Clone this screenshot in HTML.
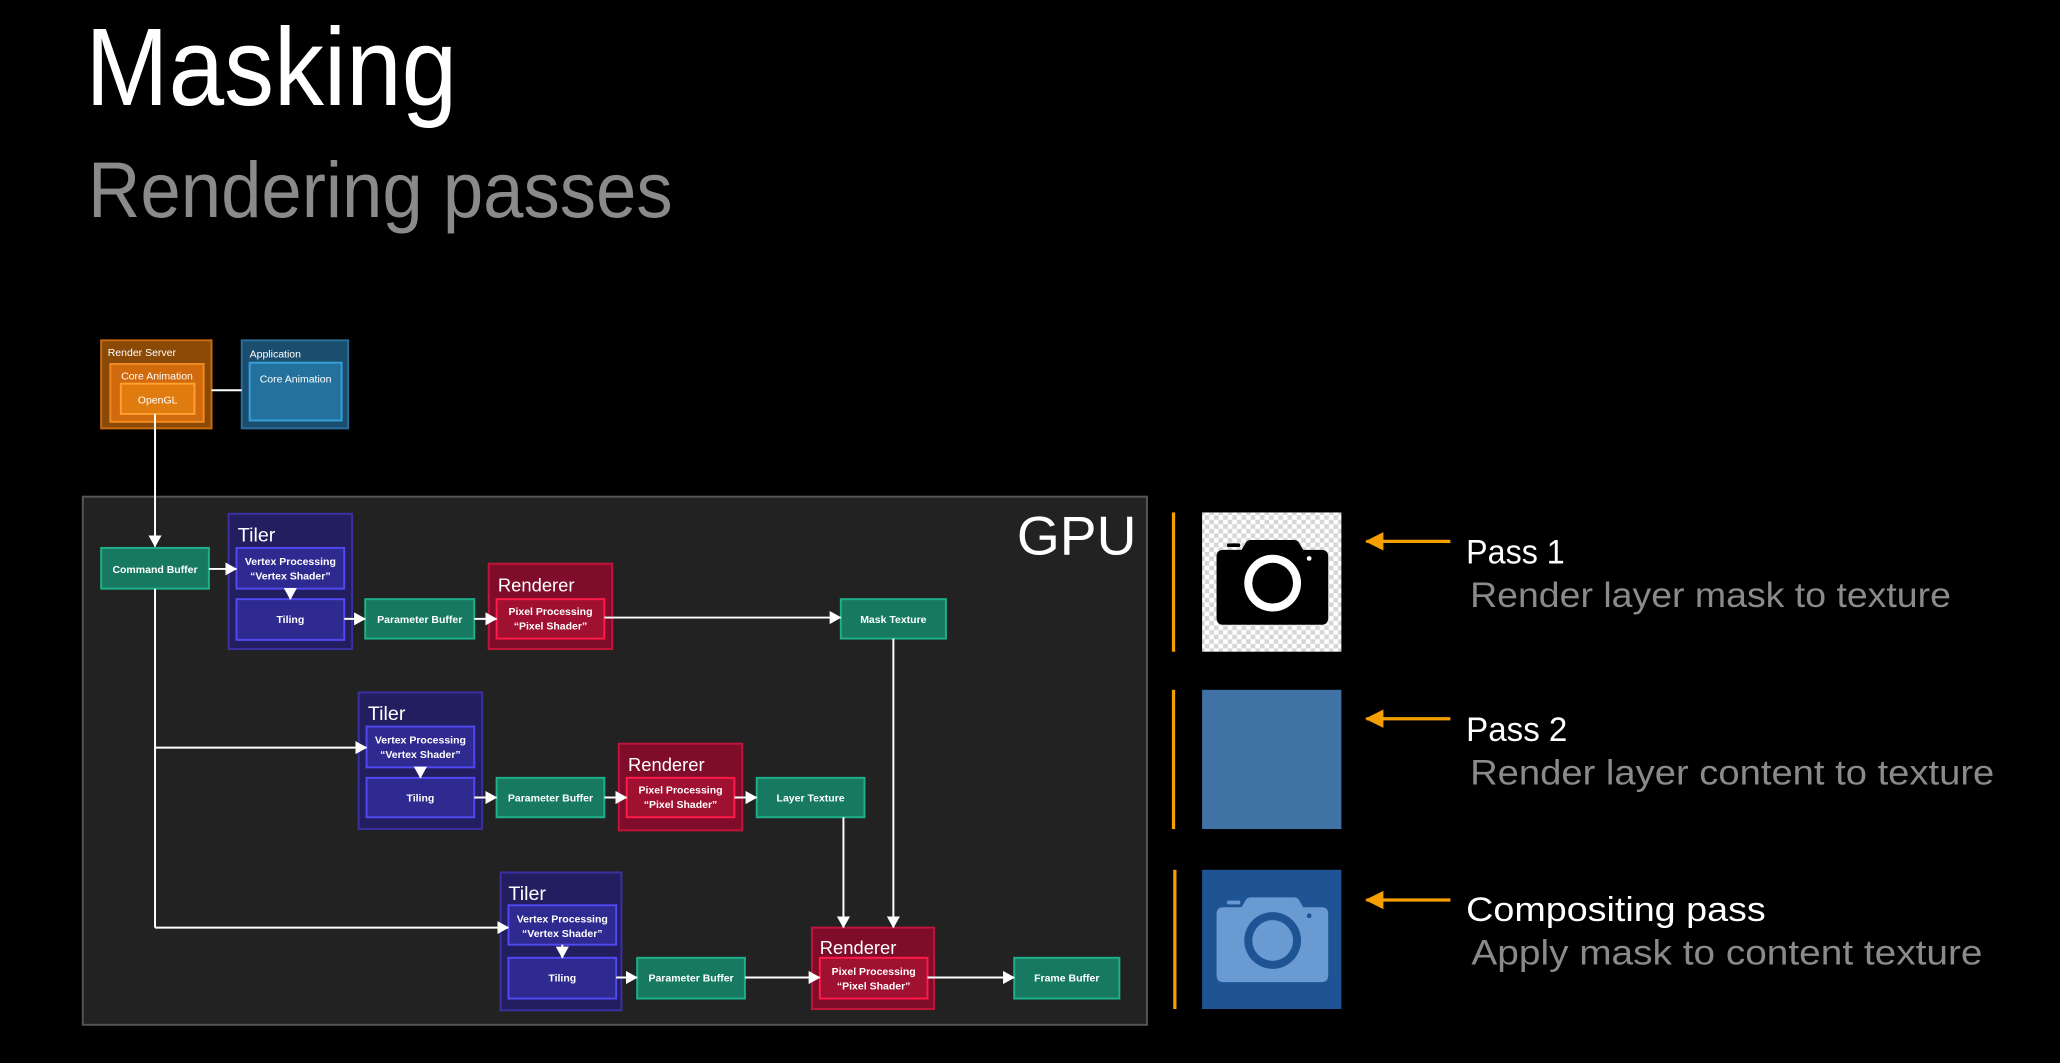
<!DOCTYPE html>
<html><head><meta charset="utf-8"><style>
html,body{margin:0;padding:0;background:#000;width:2060px;height:1063px;overflow:hidden}
svg{display:block}
text{font-family:"Liberation Sans",sans-serif}
</style></head><body>
<svg width="2060" height="1063" viewBox="0 0 1568 809" xmlns="http://www.w3.org/2000/svg">
<defs>
<marker id="ah" markerWidth="9" markerHeight="10" refX="8.5" refY="5" orient="auto" markerUnits="userSpaceOnUse"><path d="M0,0 L9,5 L0,10 z" fill="#fff"/></marker>
<marker id="oh" markerWidth="14" markerHeight="14" refX="13" refY="7" orient="auto" markerUnits="userSpaceOnUse"><path d="M0,0 L14,7 L0,14 z" fill="#f5a000"/></marker>
<pattern id="chk" width="7" height="7" patternUnits="userSpaceOnUse"><rect width="7" height="7" fill="#fff"/><rect width="3.5" height="3.5" fill="#d6d6d6"/><rect x="3.5" y="3.5" width="3.5" height="3.5" fill="#d6d6d6"/></pattern>
</defs>
<rect width="1568" height="809" fill="#000"/>
<text x="65" y="80" font-size="84" fill="#fff" textLength="283" lengthAdjust="spacingAndGlyphs">Masking</text>
<text x="67" y="165" font-size="60" fill="#8a8a8c" textLength="445" lengthAdjust="spacingAndGlyphs">Rendering passes</text>

<!-- top boxes -->
<rect x="77" y="259" width="84" height="67" fill="#8a4a05" stroke="#c86a10" stroke-width="1.5"/>
<text x="82" y="271" font-size="8" fill="#fff">Render Server</text>
<rect x="84" y="277" width="71" height="44" fill="#d06a0c" stroke="#f08a20" stroke-width="1.5"/>
<text x="119.5" y="289" font-size="8" fill="#fff" text-anchor="middle">Core Animation</text>
<rect x="92" y="292" width="56" height="23" fill="#e07b10" stroke="#ffa030" stroke-width="1.5"/>
<text x="120" y="307" font-size="8" fill="#fff" text-anchor="middle">OpenGL</text>
<rect x="184" y="259" width="81" height="67" fill="#1b4d6e" stroke="#2a6e9a" stroke-width="1.5"/>
<text x="190" y="272" font-size="8" fill="#fff">Application</text>
<rect x="190" y="276" width="70" height="44" fill="#25719e" stroke="#35a0d8" stroke-width="1.5"/>
<text x="225" y="291" font-size="8" fill="#fff" text-anchor="middle">Core Animation</text>
<line x1="161" y1="297" x2="184" y2="297" stroke="#fff" stroke-width="1.5"/>

<!-- GPU -->
<rect x="63" y="378" width="810" height="402" fill="#222" stroke="#555" stroke-width="1.5"/>
<text x="865" y="422" font-size="42" fill="#fff" text-anchor="end">GPU</text>

<g font-size="8" fill="#fff" font-weight="bold" text-anchor="middle">
<rect x="77" y="417" width="82" height="31" fill="#177a60" stroke="#1eb08a" stroke-width="1.5"/>
<text x="118" y="436">Command Buffer</text>

<rect x="174" y="391" width="94" height="103" fill="#231e60" stroke="#3a30a0" stroke-width="1.5"/>
<text x="181" y="412" font-size="15" font-weight="normal" text-anchor="start">Tiler</text>
<rect x="180" y="417" width="82" height="31" fill="#2e2a90" stroke="#5048f0" stroke-width="1.5"/>
<text x="221" y="430">Vertex Processing</text><text x="221" y="441">“Vertex Shader”</text>
<rect x="180" y="456" width="82" height="31" fill="#2e2a90" stroke="#5048f0" stroke-width="1.5"/>
<text x="221" y="474">Tiling</text>
<rect x="278" y="456" width="83" height="30" fill="#177a60" stroke="#1eb08a" stroke-width="1.5"/>
<text x="319.5" y="474">Parameter Buffer</text>
<rect x="372" y="429" width="94" height="65" fill="#7f0c28" stroke="#c0153a" stroke-width="1.5"/>
<text x="379" y="450" font-size="14" font-weight="normal" text-anchor="start">Renderer</text>
<rect x="378" y="456" width="82" height="30" fill="#a01030" stroke="#ff1a4a" stroke-width="1.5"/>
<text x="419" y="468">Pixel Processing</text><text x="419" y="479">“Pixel Shader”</text>
<rect x="640" y="456" width="80" height="30" fill="#177a60" stroke="#1eb08a" stroke-width="1.5"/>
<text x="680" y="474">Mask Texture</text>

<rect x="273" y="527" width="94" height="104" fill="#231e60" stroke="#3a30a0" stroke-width="1.5"/>
<text x="280" y="548" font-size="15" font-weight="normal" text-anchor="start">Tiler</text>
<rect x="279" y="553" width="82" height="31" fill="#2e2a90" stroke="#5048f0" stroke-width="1.5"/>
<text x="320" y="566">Vertex Processing</text><text x="320" y="577">“Vertex Shader”</text>
<rect x="279" y="592" width="82" height="30" fill="#2e2a90" stroke="#5048f0" stroke-width="1.5"/>
<text x="320" y="610">Tiling</text>
<rect x="378" y="592" width="82" height="30" fill="#177a60" stroke="#1eb08a" stroke-width="1.5"/>
<text x="419" y="610">Parameter Buffer</text>
<rect x="471" y="566" width="94" height="66" fill="#7f0c28" stroke="#c0153a" stroke-width="1.5"/>
<text x="478" y="587" font-size="14" font-weight="normal" text-anchor="start">Renderer</text>
<rect x="477" y="592" width="82" height="30" fill="#a01030" stroke="#ff1a4a" stroke-width="1.5"/>
<text x="518" y="604">Pixel Processing</text><text x="518" y="615">“Pixel Shader”</text>
<rect x="576" y="592" width="82" height="30" fill="#177a60" stroke="#1eb08a" stroke-width="1.5"/>
<text x="617" y="610">Layer Texture</text>

<rect x="381" y="664" width="92" height="105" fill="#231e60" stroke="#3a30a0" stroke-width="1.5"/>
<text x="387" y="685" font-size="15" font-weight="normal" text-anchor="start">Tiler</text>
<rect x="387" y="689" width="82" height="30" fill="#2e2a90" stroke="#5048f0" stroke-width="1.5"/>
<text x="428" y="702">Vertex Processing</text><text x="428" y="713">“Vertex Shader”</text>
<rect x="387" y="729" width="82" height="31" fill="#2e2a90" stroke="#5048f0" stroke-width="1.5"/>
<text x="428" y="747">Tiling</text>
<rect x="485" y="729" width="82" height="31" fill="#177a60" stroke="#1eb08a" stroke-width="1.5"/>
<text x="526" y="747">Parameter Buffer</text>
<rect x="618" y="706" width="93" height="62" fill="#7f0c28" stroke="#c0153a" stroke-width="1.5"/>
<text x="624" y="726" font-size="14" font-weight="normal" text-anchor="start">Renderer</text>
<rect x="624" y="729" width="82" height="31" fill="#a01030" stroke="#ff1a4a" stroke-width="1.5"/>
<text x="665" y="742">Pixel Processing</text><text x="665" y="753">“Pixel Shader”</text>
<rect x="772" y="729" width="80" height="31" fill="#177a60" stroke="#1eb08a" stroke-width="1.5"/>
<text x="812" y="747">Frame Buffer</text>
</g>

<g stroke="#fff" stroke-width="1.5" fill="none">
<line x1="118" y1="315" x2="118" y2="416" marker-end="url(#ah)"/>
<line x1="118" y1="448" x2="118" y2="706"/>
<line x1="118" y1="569" x2="279" y2="569" marker-end="url(#ah)"/>
<line x1="118" y1="706" x2="387" y2="706" marker-end="url(#ah)"/>
<line x1="159" y1="433" x2="180" y2="433" marker-end="url(#ah)"/>
<line x1="221" y1="448" x2="221" y2="456" marker-end="url(#ah)"/>
<line x1="262" y1="471" x2="278" y2="471" marker-end="url(#ah)"/>
<line x1="361" y1="471" x2="378" y2="471" marker-end="url(#ah)"/>
<line x1="460" y1="470" x2="640" y2="470" marker-end="url(#ah)"/>
<line x1="680" y1="486" x2="680" y2="706" marker-end="url(#ah)"/>
<line x1="320" y1="584" x2="320" y2="592" marker-end="url(#ah)"/>
<line x1="361" y1="607" x2="378" y2="607" marker-end="url(#ah)"/>
<line x1="460" y1="607" x2="477" y2="607" marker-end="url(#ah)"/>
<line x1="559" y1="607" x2="576" y2="607" marker-end="url(#ah)"/>
<line x1="642" y1="622" x2="642" y2="706" marker-end="url(#ah)"/>
<line x1="428" y1="719" x2="428" y2="729" marker-end="url(#ah)"/>
<line x1="469" y1="744" x2="485" y2="744" marker-end="url(#ah)"/>
<line x1="567" y1="744" x2="624" y2="744" marker-end="url(#ah)"/>
<line x1="706" y1="744" x2="772" y2="744" marker-end="url(#ah)"/>
</g>

<!-- right side -->
<g fill="#f5a000">
<rect x="892" y="390" width="2.5" height="106"/>
<rect x="892" y="525" width="2.5" height="106"/>
<rect x="893" y="662" width="2.5" height="106"/>
</g>
<rect x="915" y="390" width="106" height="106" fill="url(#chk)"/>
<rect x="915" y="525" width="106" height="106" fill="#4172a6"/>
<rect x="915" y="662" width="106" height="106" fill="#1e5494"/>

<g>
<path d="M926,424 q0,-5.5 5,-5.5 h14 l3,-5 q1,-2.5 4,-2.5 h33 q3,0 4,2.5 l3,5 h14 q5,0 5,5.5 v46 q0,5.5 -5,5.5 h-75 q-5,0 -5,-5.5 z" fill="#000"/>
<rect x="934" y="413.5" width="10" height="2.8" rx="1" fill="#000"/>
<circle cx="968.7" cy="443.8" r="21.6" fill="#fff"/>
<circle cx="968.7" cy="443.8" r="15.5" fill="#000"/>
<circle cx="996.5" cy="425" r="1.8" fill="#fff"/>
</g>
<g transform="translate(0,272)">
<path d="M926,424 q0,-5.5 5,-5.5 h14 l3,-5 q1,-2.5 4,-2.5 h33 q3,0 4,2.5 l3,5 h14 q5,0 5,5.5 v46 q0,5.5 -5,5.5 h-75 q-5,0 -5,-5.5 z" fill="#6a9ad2"/>
<rect x="934" y="413.5" width="10" height="2.8" rx="1" fill="#6a9ad2"/>
<circle cx="968.7" cy="443.8" r="21.6" fill="#1e5494"/>
<circle cx="968.7" cy="443.8" r="15.5" fill="#6a9ad2"/>
<circle cx="996.5" cy="425" r="1.8" fill="#1e5494"/>
</g>

<g stroke="#f5a000" stroke-width="2.5">
<line x1="1104" y1="412" x2="1040" y2="412" marker-end="url(#oh)"/>
<line x1="1104" y1="547" x2="1040" y2="547" marker-end="url(#oh)"/>
<line x1="1104" y1="685" x2="1040" y2="685" marker-end="url(#oh)"/>
</g>
<text x="1116" y="429" font-size="26" fill="#fff" textLength="75" lengthAdjust="spacingAndGlyphs">Pass 1</text>
<text x="1119" y="462" font-size="27" fill="#8a8a8c" textLength="366" lengthAdjust="spacingAndGlyphs">Render layer mask to texture</text>
<text x="1116" y="564" font-size="26" fill="#fff" textLength="77" lengthAdjust="spacingAndGlyphs">Pass 2</text>
<text x="1119" y="597" font-size="27" fill="#8a8a8c" textLength="399" lengthAdjust="spacingAndGlyphs">Render layer content to texture</text>
<text x="1116" y="701" font-size="26" fill="#fff" textLength="228" lengthAdjust="spacingAndGlyphs">Compositing pass</text>
<text x="1120" y="734" font-size="27" fill="#8a8a8c" textLength="389" lengthAdjust="spacingAndGlyphs">Apply mask to content texture</text>
</svg>
</body></html>
